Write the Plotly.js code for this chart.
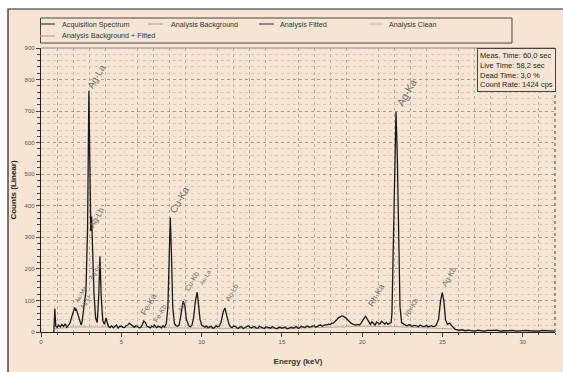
<!DOCTYPE html>
<html><head><meta charset="utf-8">
<script src="https://cdn.plot.ly/plotly-3.0.1.min.js"></script>
<style>html,body{margin:0;padding:0;background:#fff;}#chart{width:563px;height:372px;}</style>
</head><body><div id="chart"></div>
<script>
// Acquisition spectrum: energy (keV) and counts, aligned row by row (10 per row)
const energy = [
 0.80,0.86,0.92,1.0,1.1,1.2,1.3,1.4,1.5,1.6,
 1.7,1.8,1.9,2.0,2.1,2.15,2.2,2.3,2.4,2.5,
 2.55,2.6,2.7,2.8,2.9,2.98,3.05,3.1,3.15,3.2,
 3.3,3.4,3.5,3.6,3.67,3.75,3.85,3.95,4.05,4.12,
 4.2,4.3,4.4,4.5,4.6,4.7,4.8,4.9,5.0,5.1,
 5.2,5.3,5.4,5.5,5.6,5.7,5.8,5.9,6.0,6.1,
 6.2,6.3,6.4,6.5,6.6,6.7,6.8,6.9,7.0,7.06,
 7.15,7.2,7.3,7.4,7.5,7.6,7.7,7.8,7.9,8.0,
 8.05,8.12,8.2,8.3,8.4,8.5,8.6,8.7,8.85,8.95,
 9.05,9.2,9.3,9.4,9.5,9.62,9.72,9.8,9.9,10.0,
 10.1,10.2,10.3,10.4,10.5,10.6,10.7,10.8,10.9,11.0,
 11.1,11.2,11.35,11.45,11.55,11.7,11.8,11.9,12.0,12.1,
 12.2,12.3,12.4,12.5,12.6,12.7,12.8,12.9,13.0,13.1,
 13.2,13.3,13.4,13.5,13.6,13.7,13.8,13.9,14.0,14.1,
 14.2,14.3,14.4,14.5,14.6,14.7,14.8,14.9,15.0,15.1,
 15.2,15.3,15.4,15.5,15.6,15.7,15.8,15.9,16.0,16.1,
 16.2,16.3,16.4,16.5,16.6,16.7,16.8,16.9,17.0,17.1,
 17.2,17.3,17.4,17.5,17.6,17.7,17.8,17.9,18.0,18.1,
 18.2,18.3,18.4,18.5,18.6,18.7,18.8,18.9,19.0,19.1,
 19.2,19.3,19.4,19.5,19.6,19.7,19.8,19.9,20.0,20.1,
 20.2,20.3,20.4,20.5,20.6,20.7,20.8,20.9,21.0,21.1,
 21.2,21.3,21.4,21.5,21.6,21.7,21.8,21.85,21.95,22.05,
 22.1,22.18,22.26,22.35,22.45,22.6,22.7,22.8,22.9,23.0,
 23.1,23.2,23.3,23.4,23.5,23.6,23.7,23.8,23.9,24.0,
 24.1,24.2,24.3,24.4,24.5,24.6,24.75,24.88,24.98,25.08,
 25.18,25.3,25.45,25.6,25.7,25.8,25.9,26.0,26.2,26.4,
 26.6,26.8,27.0,27.2,27.4,27.6,27.8,28.0,28.2,28.4,
 28.6,28.8,29.0,29.2,29.4,29.6,29.8,30.0,30.2,30.4,
 30.6,30.8,31.0,31.2,31.4,31.6,31.8,32.0];
const counts = [
 0,74,18,14,22,16,24,18,26,15,
 20,28,45,62,78,70,72,55,35,22,
 30,55,90,130,330,764,400,320,366,290,
 120,45,30,120,240,110,35,25,45,30,
 18,14,20,13,17,22,12,18,19,15,
 14,20,22,28,24,18,15,20,18,13,
 14,22,35,30,18,16,13,19,16,22,
 15,14,18,17,13,20,16,26,80,300,
 363,250,80,28,20,18,22,50,98,85,
 40,20,16,22,45,100,126,90,40,22,
 17,15,19,13,16,18,12,14,20,16,
 19,30,65,76,55,25,16,14,19,18,
 13,12,17,16,11,14,18,20,15,13,
 16,17,12,12,18,15,13,11,16,16,
 14,12,17,14,11,10,15,15,12,13,
 16,11,11,14,15,12,16,17,12,13,
 18,15,14,17,19,15,16,18,20,16,
 17,21,22,18,20,23,22,25,24,28,
 28,32,38,44,48,50,50,47,44,38,
 32,28,25,23,22,24,22,26,34,46,
 50,42,30,24,32,28,22,32,28,25,
 34,30,25,30,24,28,30,60,300,640,
 698,560,250,80,30,24,21,20,23,22,
 18,20,21,19,17,22,20,17,18,21,
 16,19,20,17,18,22,40,100,125,100,
 40,24,28,18,12,8,7,5,7,4,
 6,5,3,6,4,3,5,4,5,6,
 3,4,5,4,5,3,4,3,5,4,
 3,4,3,5,4,3,4,3];
// Analysis background (smooth, low)
const bgEnergy = [0.8,2,4,6,10,15,18,20,22,24,25.5,26.5,32];
const bgCounts = [10,16,16,14,12,11,14,18,17,14,10,4,3];

const peakNames = ["Ag-La","Ag-Lb","Au-Ma","Ag-Ll","Ag-Lg","Fe-Ka","Fe-Kb","Cu-Ka","Au-Ll","Cu-Kb","Au-La","Au-Lb","Rh-Ka","Ag-Ka","Rh-Kb","Ag-Kb"];
const peakX = [3.42,3.48,2.50,2.75,3.35,6.71,7.39,8.63,8.82,9.38,10.25,11.86,20.87,22.73,23.04,25.40];
const peakY = [811,363,120,95,190,88,60,420,85,161,174,126,117,758,79,177];
const peakSize = [9.5,8,6,6,6,8.5,7,10,5.5,7.5,6,7,8.5,10.5,7,7.5];

const infoLines = ["Meas. Time: 60,0 sec","Live Time: 58,2 sec","Dead Time: 3,0 %","Count Rate: 1424 cps"];
const legendNames = ["Acquisition Spectrum","Analysis Background","Analysis Fitted","Analysis Clean","Analysis Background + Fitted"];
const legendColors = ["#3a3a3a","#b0a9a2","#4a4a4a","#c2bbb3","#b0a9a2"];
// legend layout (paper coords)
const legLineX0 = [-0.002,0.2082,0.4241,0.6381,-0.002];
const legLineX1 = [0.0272,0.2374,0.4533,0.6654,0.0272];
const legTextX = [0.037,0.249,0.4611,0.6732,0.037];
const legRowY = [1.0845,1.0845,1.0845,1.0845,1.0423];

if (energy.length !== counts.length) console.error('length mismatch', energy.length, counts.length);

const FONT = "Liberation Sans, Arial, sans-serif";
const BG = "#f6e5d2";

const traces = [
  {x: bgEnergy, y: bgCounts, name: legendNames[1], mode:'lines', line:{color:legendColors[1], width:1}},
  {x: energy, y: counts, name: legendNames[0], mode:'lines', line:{color:'#1a1a1a', width:1.3}}
];

const annotations = peakNames.map((t,i)=>({
  x: peakX[i], y: peakY[i], xref:'x', yref:'y', text: t, showarrow:false,
  textangle: -60, font:{family: FONT, size: peakSize[i], color:'#6e6e6e'}
}));
annotations.push({
  xref:'paper', yref:'paper', x: 1.002, y: 1.0, xanchor:'right', yanchor:'top',
  text: infoLines.join('<br>'), align:'left', showarrow:false,
  font:{family: FONT, size: 7.5, color:'#222'}, bordercolor:'#444', borderwidth:1, borderpad:2, bgcolor: BG
});
const shapes = [
  {type:'rect', xref:'paper', yref:'paper', x0:-0.0642, x1:1.2, y0:-0.3, y1:1.1373, layer:'below', fillcolor:BG, line:{color:'#222', width:1.2}},
  {type:'rect', xref:'paper', yref:'paper', x0:-0.001, x1:0.9163, y0:1.0176, y1:1.1056, layer:'above', fillcolor:'rgba(0,0,0,0)', line:{color:'#444', width:1}},
  {type:'line', xref:'paper', yref:'paper', x0:0, x1:1, y0:1, y1:1, line:{color:'#888', width:1}},
  {type:'line', xref:'paper', yref:'paper', x0:1, x1:1, y0:0, y1:1, line:{color:'#777', width:1.5, dash:'dot'}}
];
legendNames.forEach((n,i)=>{
  shapes.push({type:'line', xref:'paper', yref:'paper', x0:legLineX0[i], x1:legLineX1[i], y0:legRowY[i], y1:legRowY[i], line:{color:legendColors[i], width:1.2}});
  annotations.push({xref:'paper', yref:'paper', x:legTextX[i], y:legRowY[i], xanchor:'left', yanchor:'middle', text:n, showarrow:false,
    font:{family:FONT, size:7.2, color:'#333'}});
});

const layout = {
  width:563, height:372,
  margin:{l:41, r:8, t:48, b:40},
  paper_bgcolor:'#ffffff', plot_bgcolor: BG,
  showlegend:false,
  xaxis:{range:[0,32], dtick:5, tick0:0, showline:true, linecolor:'#222', linewidth:1.2, mirror:false,
    ticks:'outside', ticklen:4, tickcolor:'#444', tickfont:{family:FONT, size:6, color:'#555'},
    showgrid:false, zeroline:false,
    minor:{dtick:1, ticks:'outside', ticklen:2, tickcolor:'#555', showgrid:true, gridcolor:'#b9aea0', griddash:'dot', gridwidth:1},
    title:{text:'<b>Energy (keV)</b>', font:{family:FONT, size:8, color:'#333'}, standoff:14}},
  yaxis:{range:[0,900], dtick:100, showline:true, linecolor:'#222', linewidth:1.2,
    ticks:'outside', ticklen:4, tickcolor:'#444', tickfont:{family:FONT, size:6, color:'#555'},
    showgrid:true, gridcolor:'#a89c8e', griddash:'dot', gridwidth:1, zeroline:false,
    minor:{dtick:20, ticks:'outside', ticklen:3, tickcolor:'#444', showgrid:true, gridcolor:'#d6c9b8', griddash:'dot', gridwidth:1},
    title:{text:'<b>Counts (Linear)</b>', font:{family:FONT, size:8, color:'#222'}, standoff:6}},
  annotations: annotations,
  shapes: shapes
};
Plotly.newPlot('chart', traces, layout, {displayModeBar:false, staticPlot:true});
</script></body></html>
